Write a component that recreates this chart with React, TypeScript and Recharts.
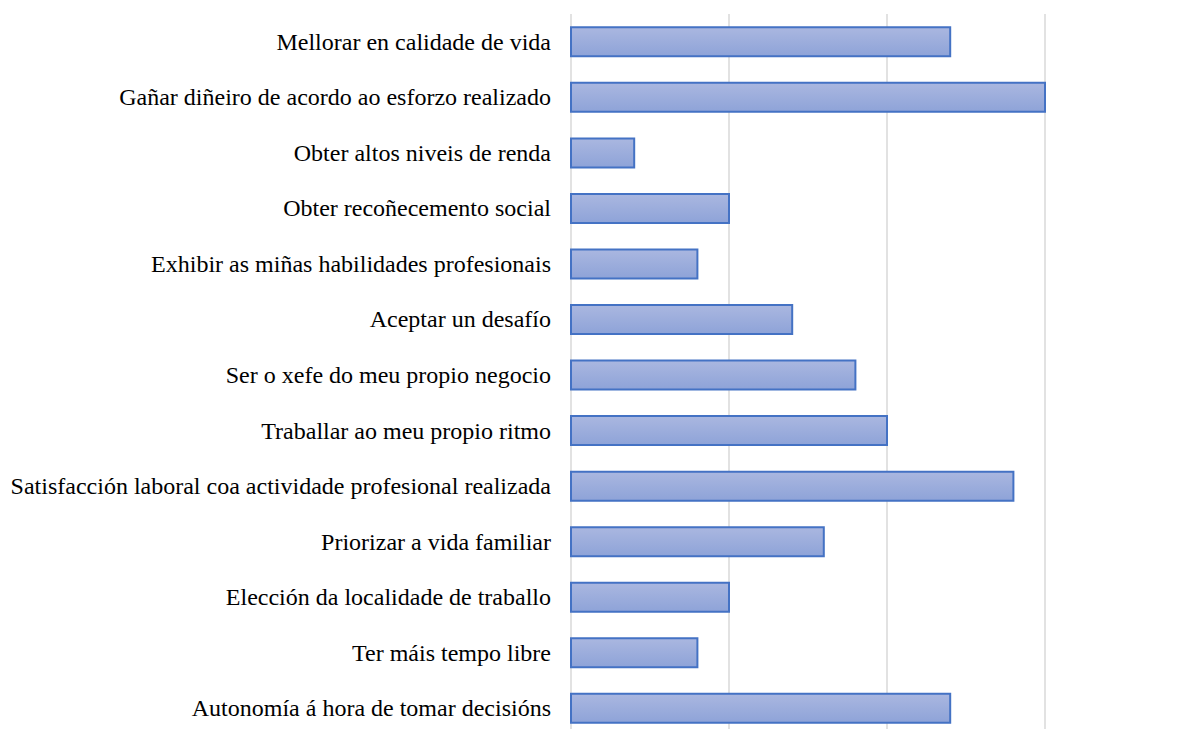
import React from 'react';
import { BarChart, Bar, XAxis, YAxis, CartesianGrid } from 'recharts';

const categories = [
  'Mellorar en calidade de vida',
  'Gañar diñeiro de acordo ao esforzo realizado',
  'Obter altos niveis de renda',
  'Obter recoñecemento social',
  'Exhibir as miñas habilidades profesionais',
  'Aceptar un desafío',
  'Ser o xefe do meu propio negocio',
  'Traballar ao meu propio ritmo',
  'Satisfacción laboral coa actividade profesional realizada',
  'Priorizar a vida familiar',
  'Elección da localidade de traballo',
  'Ter máis tempo libre',
  'Autonomía á hora de tomar decisións',
];
const values = [2.4, 3.0, 0.4, 1.0, 0.8, 1.4, 1.8, 2.0, 2.8, 1.6, 1.0, 0.8, 2.4];
const xTicks = [0, 1, 2, 3];

const data = categories.map((name, i) => ({ name, value: values[i] }));

const CategoryTick = (props: any) => {
  const { x, y, payload } = props;
  return (
    <text
      x={x}
      y={y}
      dy={8}
      textAnchor="end"
      fill="#000"
      fontSize={24}
      fontFamily='"Liberation Serif", "Times New Roman", serif'
    >
      {payload.value}
    </text>
  );
};

export default function App() {
  return (
    <div style={{ position: 'absolute', left: 0, top: 0, width: 1189, height: 729, overflow: 'hidden', background: '#fff' }}>
      <BarChart
        width={1189}
        height={750}
        data={data}
        layout="vertical"
        margin={{ top: 14, right: 144, bottom: 14, left: 0 }}
        barCategoryGap="24%"
      >
        <defs>
          <linearGradient id="barGrad" x1="0" y1="0" x2="0" y2="1">
            <stop offset="0%" stopColor="#aab7e0" />
            <stop offset="100%" stopColor="#8ea3d8" />
          </linearGradient>
        </defs>
        <CartesianGrid horizontal={false} stroke="#d9d9d9" strokeWidth={1.5} />
        <XAxis type="number" domain={[0, 3]} ticks={xTicks} hide />
        <YAxis
          type="category"
          dataKey="name"
          width={571}
          axisLine={false}
          tickLine={false}
          tickMargin={14}
          interval={0}
          tick={<CategoryTick />}
        />
        <Bar dataKey="value" fill="url(#barGrad)" stroke="#4472c4" strokeWidth={2} isAnimationActive={false} />
      </BarChart>
    </div>
  );
}
